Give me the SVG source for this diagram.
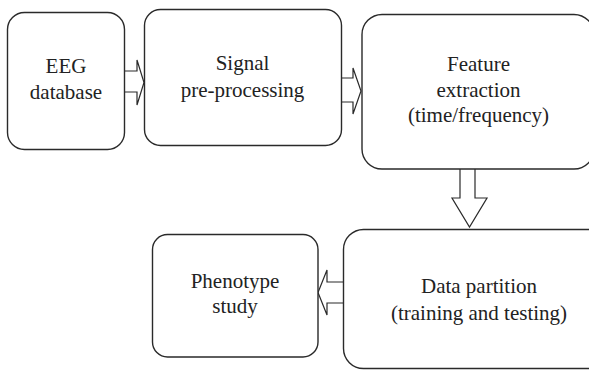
<svg xmlns="http://www.w3.org/2000/svg" width="589" height="370" viewBox="0 0 589 370">
  <style>
    .box { fill: #ffffff; stroke: #2a2a2a; stroke-width: 1.4; }
    .arrow { fill: #ffffff; stroke: #2a2a2a; stroke-width: 1.2; stroke-linejoin: miter; }
    .label { font-family: "Liberation Serif", "Times New Roman", serif; font-size: 21px; fill: #222222; text-anchor: middle; }
  </style>
  <rect x="0" y="0" width="589" height="370" fill="#ffffff"/>

  <g id="connectors">
    <!-- EEG database -> Signal pre-processing -->
    <path class="arrow" d="M124,71 H137 V60 L144,82.5 L137,105 V92 H124"/>
    <!-- Signal pre-processing -> Feature extraction -->
    <path class="arrow" d="M341,78 H353 V68 L361,91 L353,114 V102 H341"/>
    <!-- Feature extraction -> Data partition -->
    <path class="arrow" d="M460,169 V198 H452 L469.5,227 L487,198 H475 V169"/>
    <!-- Data partition -> Phenotype study -->
    <path class="arrow" d="M343,282 H327 V270 L318,292.5 L327,315 V303 H343"/>
  </g>

  <g id="eeg-database">
    <rect class="box" x="7.5" y="12.5" width="117" height="137" rx="17" ry="17"/>
    <text class="label" x="66" y="73">EEG</text>
    <text class="label" x="66" y="99">database</text>
  </g>

  <g id="signal-preprocessing">
    <rect class="box" x="144.5" y="9.5" width="197" height="136" rx="16" ry="16"/>
    <text class="label" x="242.5" y="70">Signal</text>
    <text class="label" x="242.5" y="97">pre-processing</text>
  </g>

  <g id="feature-extraction">
    <rect class="box" x="362" y="14.5" width="232" height="154.5" rx="20" ry="20"/>
    <text class="label" x="478.5" y="71">Feature</text>
    <text class="label" x="478.5" y="97">extraction</text>
    <text class="label" x="478.5" y="122">(time/frequency)</text>
  </g>

  <g id="data-partition">
    <rect class="box" x="343.5" y="229.5" width="272" height="139" rx="20" ry="20"/>
    <text class="label" x="479" y="293">Data partition</text>
    <text class="label" x="479" y="320">(training and testing)</text>
  </g>

  <g id="phenotype-study">
    <rect class="box" x="152.5" y="234.5" width="165.5" height="122.5" rx="15" ry="15"/>
    <text class="label" x="235" y="288">Phenotype</text>
    <text class="label" x="235" y="313">study</text>
  </g>
</svg>
